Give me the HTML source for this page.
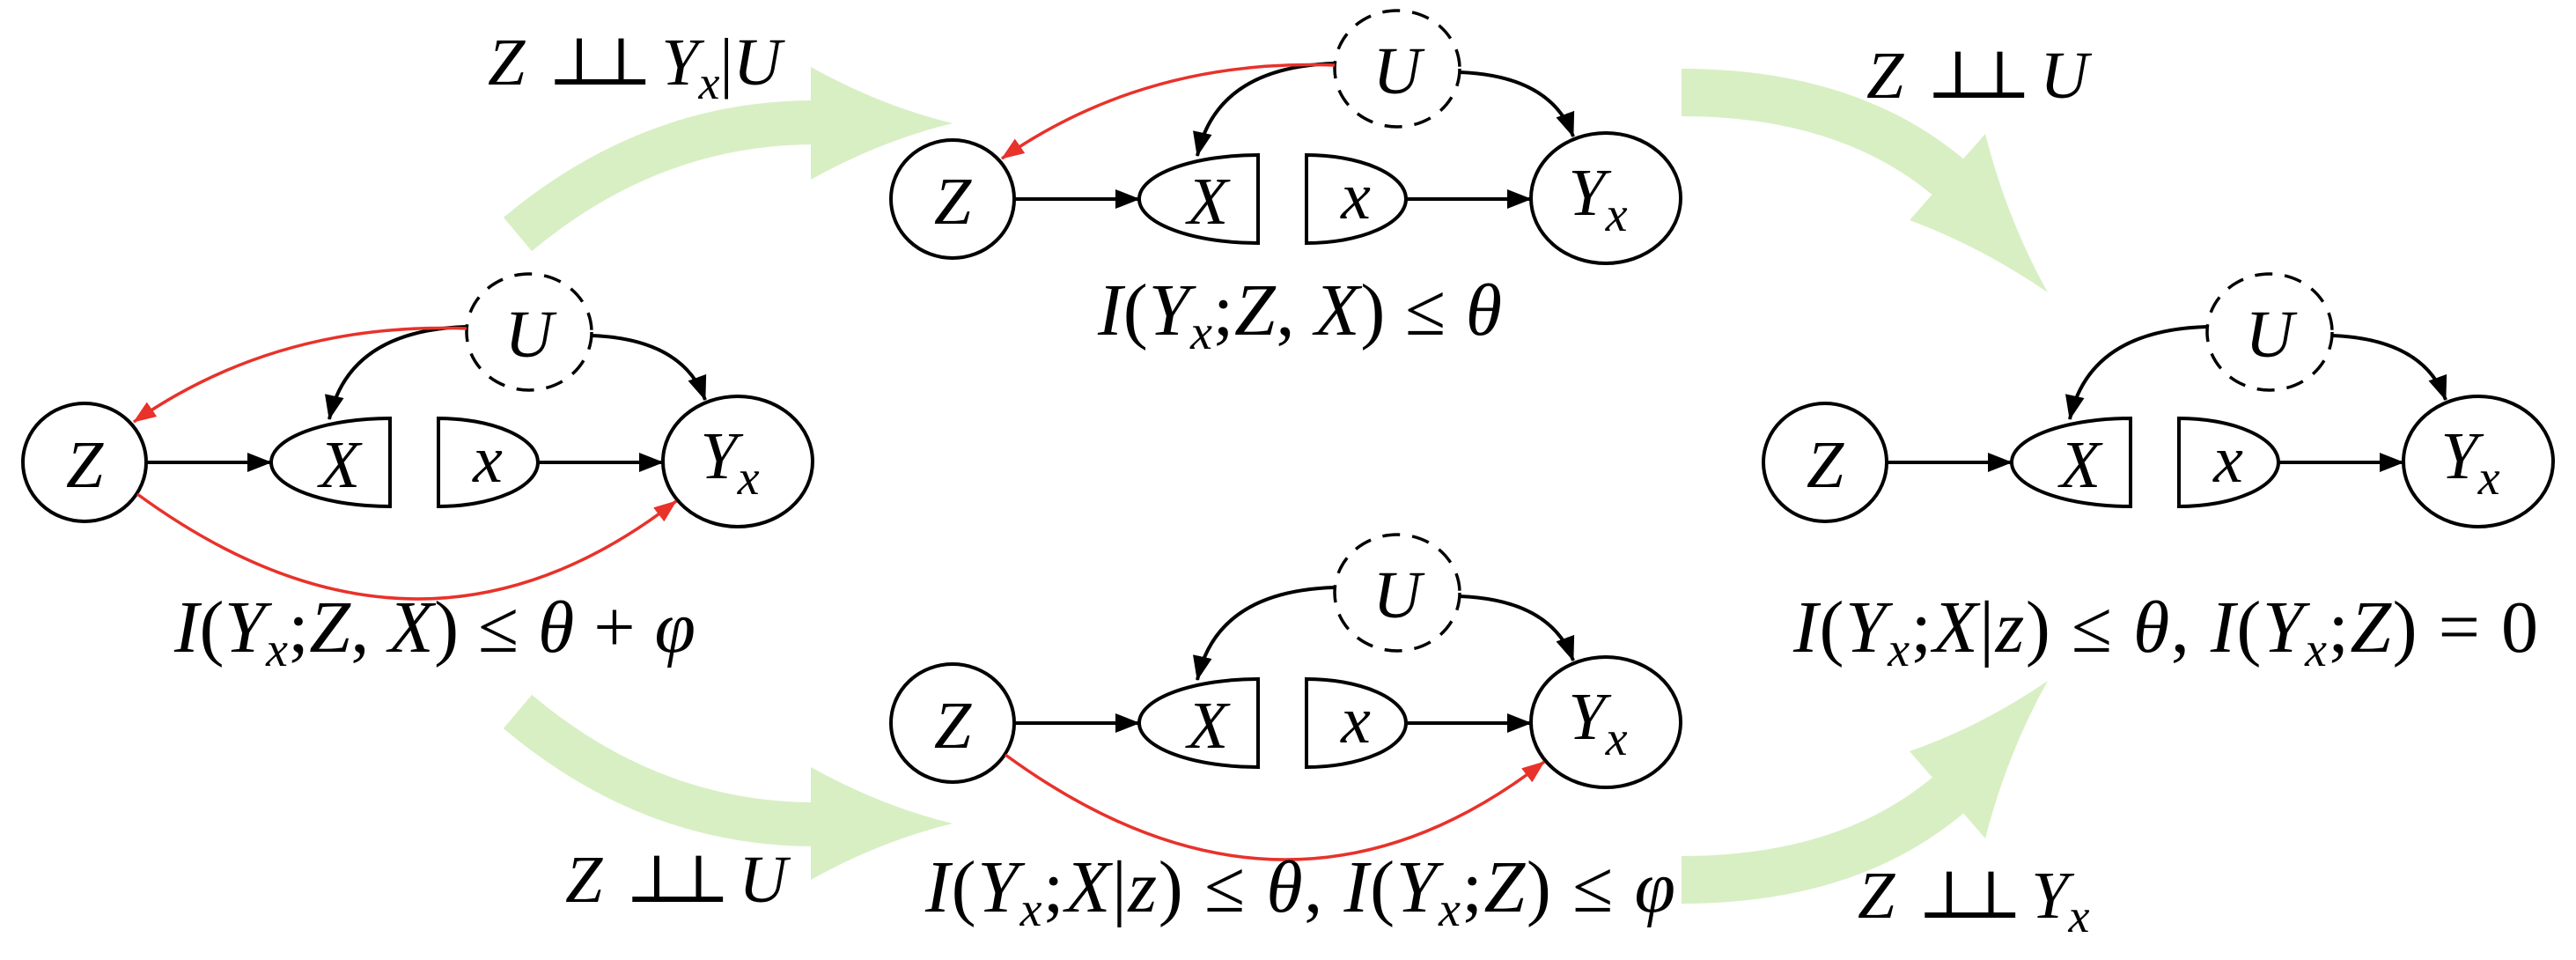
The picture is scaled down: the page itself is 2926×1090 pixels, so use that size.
<!DOCTYPE html>
<html><head><meta charset="utf-8"><style>
html,body{margin:0;padding:0;background:#fff;}
svg{display:block;}
text{font-family:"Liberation Serif","DejaVu Serif",serif;font-size:76px;fill:#000;}
.i{font-style:italic;}
.lb{font-size:84px;}
</style></head><body>
<svg width="2926" height="1090" viewBox="0 0 2926 1090" xmlns="http://www.w3.org/2000/svg">
<defs>
<marker id="abk" markerWidth="28" markerHeight="22" refX="27" refY="11" orient="auto" markerUnits="userSpaceOnUse"><path d="M0,0 L28,11 L0,22 z" fill="#000"/></marker>
<marker id="ar" markerWidth="26" markerHeight="20" refX="25" refY="10" orient="auto" markerUnits="userSpaceOnUse"><path d="M0,0 L26,10 L0,20 z" fill="#e8322a"/></marker>
<g id="base" fill="none" stroke="#000" stroke-width="4">
 <ellipse cx="0" cy="0" rx="70" ry="67" fill="#fff"/>
 <path d="M347,-50 L347,50 A135,50 0 0 1 347,-50 Z" fill="#fff"/>
 <path d="M402,-50 L402,50 A113,50 0 0 0 402,-50 Z" fill="#fff"/>
 <ellipse cx="742" cy="-1" rx="85" ry="74" fill="#fff"/>
 <ellipse cx="505" cy="-148" rx="71" ry="66" fill="#fff" stroke-dasharray="20,14" stroke-width="3.5"/>
 <line x1="70" y1="0" x2="212" y2="0" marker-end="url(#abk)"/>
 <line x1="515" y1="0" x2="657" y2="0" marker-end="url(#abk)"/>
 <path d="M434,-154 Q300,-150 278,-49" marker-end="url(#abk)"/>
 <path d="M576,-144 Q680,-140 705,-71" marker-end="url(#abk)"/>
 <text x="0" y="28" text-anchor="middle" class="i" stroke="none" font-size="84">Z</text>
 <text x="290" y="28" text-anchor="middle" class="i" stroke="none" font-size="84">X</text>
 <text x="458" y="22" text-anchor="middle" class="i" stroke="none" font-size="84">x</text>
 <text x="733" y="18" text-anchor="middle" class="i" stroke="none" font-size="84">Y<tspan font-size="56" dy="18">x</tspan></text>
 <text x="505" y="-120" text-anchor="middle" class="i" stroke="none" font-size="84">U</text>
</g>
<path id="redtop" d="M434,-152 Q220,-160 56,-46" fill="none" stroke="#e8322a" stroke-width="3.5" marker-end="url(#ar)"/>
<path id="redbot" d="M60,36 Q380,270 672,44" fill="none" stroke="#e8322a" stroke-width="3.5" marker-end="url(#ar)"/>
</defs>

<g fill="#d8efc4" stroke="none">
 <path d="M588,266 Q740,139 925,139" fill="none" stroke="#d8efc4" stroke-width="50"/>
 <path d="M921,76 Q1000,120 1082,140 Q1000,160 921,204 Z"/>
 <path d="M588,808 Q740,936 925,936" fill="none" stroke="#d8efc4" stroke-width="50"/>
 <path d="M921,871 Q1000,915 1082,935 Q1000,955 921,999 Z"/>
 <path d="M1910,105 Q2100,105 2215,203" fill="none" stroke="#d8efc4" stroke-width="54"/>
 <path d="M2255,152 Q2280,250 2326,332 Q2250,280 2169,250 Z"/>
 <path d="M1910,999 Q2100,999 2215,901" fill="none" stroke="#d8efc4" stroke-width="54"/>
 <path d="M2169,853 Q2250,825 2326,773 Q2280,855 2255,952 Z"/>
</g>

<g transform="translate(96,525)"><use href="#base"/><use href="#redtop"/><use href="#redbot"/></g>
<g transform="translate(1082,226)"><use href="#base"/><use href="#redtop"/></g>
<g transform="translate(1082,821)"><use href="#base"/><use href="#redbot"/></g>
<g transform="translate(2073,525)"><use href="#base"/></g>

<text class="lb" x="198" y="740" textLength="592" lengthAdjust="spacing"><tspan class="i">I</tspan>(<tspan class="i">Y</tspan><tspan class="i" font-size="56" dy="16">x</tspan><tspan dy="-16">;</tspan><tspan class="i">Z</tspan>, <tspan class="i">X</tspan>) ≤ <tspan class="i">θ</tspan> + <tspan class="i">φ</tspan></text>
<text class="lb" x="1247" y="380" textLength="459" lengthAdjust="spacing"><tspan class="i">I</tspan>(<tspan class="i">Y</tspan><tspan class="i" font-size="56" dy="16">x</tspan><tspan dy="-16">;</tspan><tspan class="i">Z</tspan>, <tspan class="i">X</tspan>) ≤ <tspan class="i">θ</tspan></text>
<text class="lb" x="1051" y="1035" textLength="852" lengthAdjust="spacing"><tspan class="i">I</tspan>(<tspan class="i">Y</tspan><tspan class="i" font-size="56" dy="16">x</tspan><tspan dy="-16">;</tspan><tspan class="i">X</tspan>|<tspan class="i">z</tspan>) ≤ <tspan class="i">θ</tspan>, <tspan class="i">I</tspan>(<tspan class="i">Y</tspan><tspan class="i" font-size="56" dy="16">x</tspan><tspan dy="-16">;</tspan><tspan class="i">Z</tspan>) ≤ <tspan class="i">φ</tspan></text>
<text class="lb" x="2037" y="740" textLength="846" lengthAdjust="spacing"><tspan class="i">I</tspan>(<tspan class="i">Y</tspan><tspan class="i" font-size="56" dy="16">x</tspan><tspan dy="-16">;</tspan><tspan class="i">X</tspan>|<tspan class="i">z</tspan>) ≤ <tspan class="i">θ</tspan>, <tspan class="i">I</tspan>(<tspan class="i">Y</tspan><tspan class="i" font-size="56" dy="16">x</tspan><tspan dy="-16">;</tspan><tspan class="i">Z</tspan>) = 0</text>

<text x="554" y="96"><tspan class="i">Z</tspan><tspan dx="26" letter-spacing="-24">⊥⊥</tspan><tspan dx="34" class="i">Y</tspan><tspan class="i" font-size="54" dy="16">x</tspan><tspan dy="-16">|</tspan><tspan class="i">U</tspan></text>
<text x="2120" y="111"><tspan class="i">Z</tspan><tspan dx="26" letter-spacing="-24">⊥⊥</tspan><tspan dx="34" class="i">U</tspan></text>
<text x="642" y="1024"><tspan class="i">Z</tspan><tspan dx="26" letter-spacing="-24">⊥⊥</tspan><tspan dx="34" class="i">U</tspan></text>
<text x="2110" y="1042"><tspan class="i">Z</tspan><tspan dx="26" letter-spacing="-24">⊥⊥</tspan><tspan dx="34" class="i">Y</tspan><tspan class="i" font-size="54" dy="16">x</tspan></text>
</svg>
</body></html>
